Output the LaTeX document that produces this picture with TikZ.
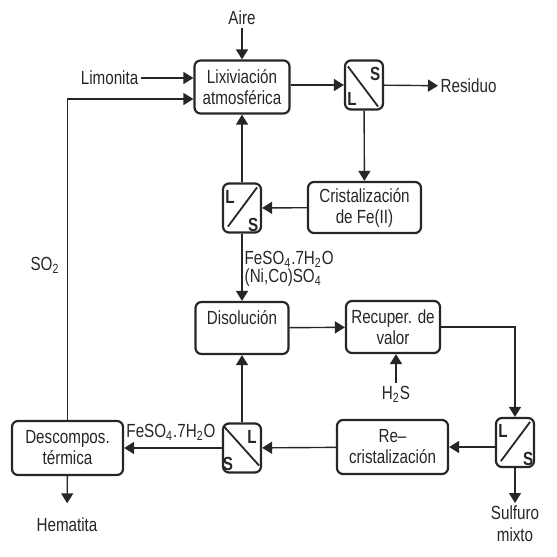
\documentclass[tikz,border=0pt]{standalone}
\usepackage{fontspec}
\setmainfont[FakeStretch=0.8]{Liberation Sans}
\usetikzlibrary{arrows.meta}
\tikzset{
  proc/.style={draw, rounded corners=3pt, line width=1.1pt, align=center, inner sep=0pt},
  sep/.style={draw, rounded corners=3pt, line width=1.1pt, minimum width=19pt, minimum height=24.5pt, inner sep=0pt},
  sepl/.style={font=\fontsize{9.5}{10}\selectfont\bfseries, inner sep=0pt},
  lbl/.style={inner sep=1pt},
}
\begin{document}
\begin{tikzpicture}[>={Triangle[length=5pt,width=6pt]}, x=0.5pt, y=-0.5pt, line width=0.7pt, color=black!85, font=\fontsize{9.5}{10.5}\selectfont]
		\useasboundingbox (0,0) rectangle (557,557);
		% process boxes
		\node[proc, minimum width=47.5pt, minimum height=26.5pt] (lix) at (242,87) {Lixiviación\\atmosférica};
		\node[proc, minimum width=56.5pt, minimum height=25.5pt] (crist) at (364.5,207.5) {Cristalización\\de Fe(II)};
		\node[proc, minimum width=46.5pt, minimum height=26pt] (disol) at (242,328) {Disolución\\\mbox{}};
		\node[proc, minimum width=47pt, minimum height=26pt] (recup) at (393,327) {Recuper. de\\valor};
		\node[proc, minimum width=55.5pt, minimum height=27pt] (recris) at (392.5,447) {Re–\\cristalización};
		\node[proc, minimum width=55.5pt, minimum height=27pt] (desc) at (67.5,448) {Descompos.\\térmica};
		
		% separators
		\node[sep] (s1) at (364,85) {};
		\draw[line width=0.9pt] ([shift={(2pt,-3.5pt)}]s1.north west) -- ([shift={(-3pt,2pt)}]s1.south east);
		\node[sepl] (s1S) at ([shift={(-4.5pt,-7.5pt)}]s1.north east) {S};
		\node[sepl] (s1L) at ([shift={(4pt,6pt)}]s1.south west) {L};
		
		\node[sep] (s2) at (242,208) {};
		\draw[line width=0.9pt] ([shift={(3pt,3.5pt)}]s2.south west) -- ([shift={(-2.5pt,-2.5pt)}]s2.north east);
		\node[sepl] (s2L) at ([shift={(4pt,-7.5pt)}]s2.north west) {L};
		\node[sepl] (s2S) at ([shift={(-4.5pt,4.5pt)}]s2.south east) {S};
		
		\node[sep] (s3) at (515,442.5) {};
		\draw[line width=0.9pt] ([shift={(3pt,3.5pt)}]s3.south west) -- ([shift={(-2.5pt,-2.5pt)}]s3.north east);
		\node[sepl] (s3L) at ([shift={(4pt,-7pt)}]s3.north west) {L};
		\node[sepl] (s3S) at ([shift={(-3.5pt,4.5pt)}]s3.south east) {S};
		
		\node[sep] (s4) at (242,448) {};
		\draw[line width=0.9pt] ([shift={(1pt,-2pt)}]s4.north west) -- ([shift={(-1.5pt,4pt)}]s4.south east);
		\node[sepl] (s4L) at ([shift={(-5pt,-7.5pt)}]s4.north east) {L};
		\node[sepl] (s4S) at ([shift={(3pt,5pt)}]s4.south west) {S};
		
		% streams
		\node[lbl] (aire) at (242,18) {Aire};
		\node[lbl, anchor=east] (limo) at (141,78) {Limonita};
		\node[lbl, anchor=west] (res) at (438,86) {Residuo};
		\node[lbl] (so2) at (45,265) {SO\textsubscript{2}};
		\node[lbl, anchor=west, align=left, font=\fontsize{9.5}{9}\selectfont] (fes1) at (242,269) {FeSO\textsubscript{4}.7H\textsubscript{2}O\\(Ni,Co)SO\textsubscript{4}};
		\node[lbl] (h2s) at (396,394) {H\textsubscript{2}S};
		\node[lbl, anchor=north, align=center, font=\fontsize{9.5}{11}\selectfont] (sulf) at (515,503) {Sulfuro\\mixto};
		\node[lbl] (fes2) at (171,432) {FeSO\textsubscript{4}.7H\textsubscript{2}O};
		\node[lbl] (hem) at (67,525) {Hematita};
		
		\draw[->] (aire) -- (lix);
		\draw[->] (limo.east) -- (lix.west |- limo.east);
		\draw[->] (desc.north) |- ([yshift=-6pt]lix.west);
		\draw[->] (lix.east |- s1) -- (s1);
		\draw[->] (s1) -- (res);
		\draw[->] (s1) -- (crist);
		\draw[->] (crist) -- (s2);
		\draw[->] (s2) -- (lix);
		\draw[->] (s2) -- (disol);
		\draw[->] (disol) -- (recup);
		\draw[->] (recup) -| (s3);
		\draw[->] (h2s) -- (h2s |- recup.south);
		\draw[->] (s3.west |- recris) -- (recris);
		\draw[->] (s3) -- (sulf);
		\draw[->] (recris) -- (s4);
		\draw[->] (s4) -- (disol);
		\draw[->] (s4) -- (desc);
		\draw[->, shorten >=6pt] (desc) -- (hem);
	\end{tikzpicture}
\end{document}
